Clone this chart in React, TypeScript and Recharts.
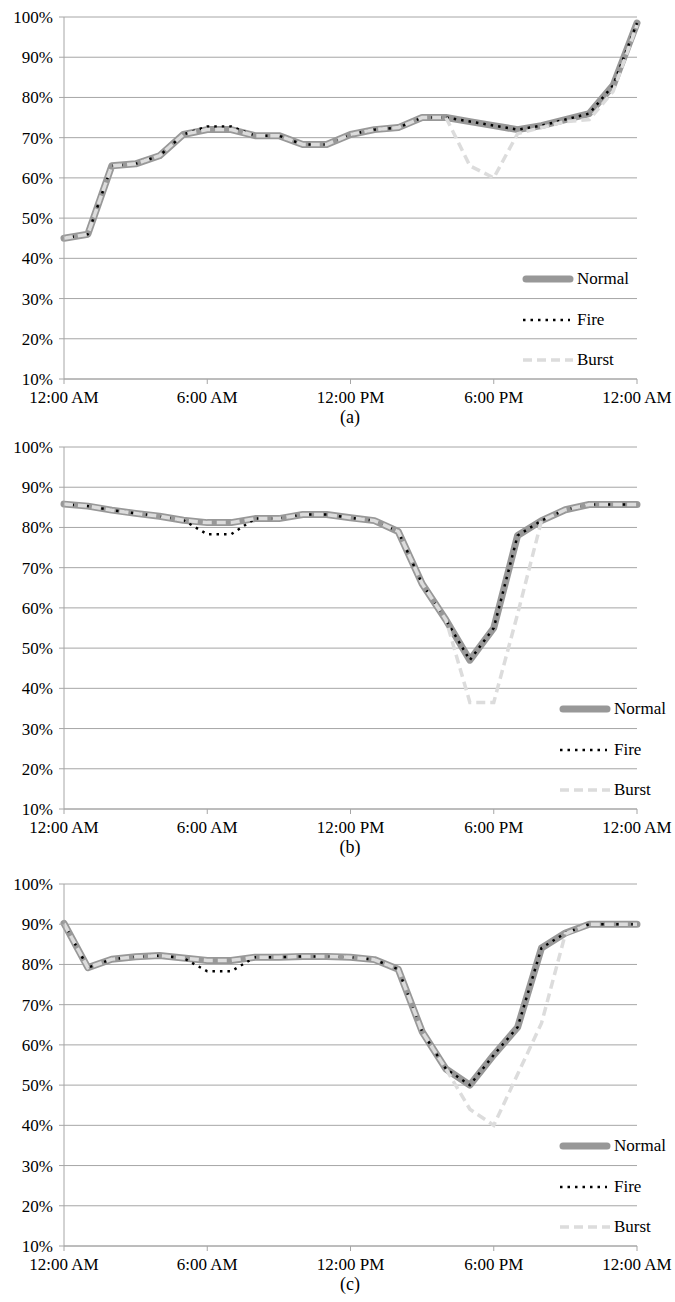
import { LineChart, Line, XAxis, YAxis, CartesianGrid } from 'recharts';

const hours = [0, 1, 2, 3, 4, 5, 6, 7, 8, 9, 10, 11, 12, 13, 14, 15, 16, 17, 18, 19, 20, 21, 22, 23, 24];
const xTicks = [0, 6, 12, 18, 24];
const xTickLabels = ['12:00 AM', '6:00 AM', '12:00 PM', '6:00 PM', '12:00 AM'];
const yTicks = [10, 20, 30, 40, 50, 60, 70, 80, 90, 100];
const seriesNames = ['Normal', 'Fire', 'Burst'];

// (a)
const normalA = [45, 46, 63, 63.5, 65.5, 70.8, 72, 72, 70.5, 70.5, 68.3, 68.3, 70.8, 72, 72.5, 75, 75, 74, 73, 72, 73, 74.5, 76, 83, 98.5];
const fireA = [45, 46, 63, 63.5, 65.5, 70.8, 72.8, 72.8, 70.5, 70.5, 68.3, 68.3, 70.8, 72, 72.5, 75, 75, 74, 73, 72, 73, 74.5, 76, 83, 98.5];
const burstA = [45, 46, 63, 63.5, 65.5, 70.8, 72, 72, 70.5, 70.5, 68.3, 68.3, 70.8, 72, 72.5, 75, 75, 63, 60, 71, 72.5, 74, 74.5, 81.5, 98];

// (b)
const normalB = [85.8, 85.3, 84.3, 83.5, 82.8, 81.8, 81.2, 81.2, 82.2, 82.2, 83.2, 83.2, 82.4, 81.7, 79, 66, 57, 47, 55, 78, 81.7, 84.4, 85.7, 85.7, 85.7];
const fireB = [85.8, 85.3, 84.3, 83.5, 82.8, 81.8, 78.3, 78.3, 82.2, 82.2, 83.2, 83.2, 82.4, 81.7, 79, 66, 57, 47, 55, 78, 81.7, 84.4, 85.7, 85.7, 85.7];
const burstB = [85.8, 85.3, 84.3, 83.5, 82.8, 81.8, 81.2, 81.2, 82.2, 82.2, 83.2, 83.2, 82.4, 81.7, 79, 66, 57, 36.5, 36.5, 58.5, 81.7, 84.4, 85.7, 85.7, 85.7];

// (c)
const normalC = [90.2, 79.2, 81.3, 81.9, 82.2, 81.6, 81, 81, 81.8, 81.8, 82, 82, 81.8, 81.2, 78.8, 63.3, 54, 50, 57.5, 64.4, 84.1, 87.8, 90, 90, 90];
const fireC = [90.2, 79.2, 81.3, 81.9, 82.2, 81.6, 78.3, 78.3, 81.8, 81.8, 82, 82, 81.8, 81.2, 78.8, 63.3, 54, 50, 57.5, 64.4, 84.1, 87.8, 90, 90, 90];
const burstC = [90.2, 79.2, 81.3, 81.9, 82.2, 81.6, 81, 81, 81.8, 81.8, 82, 82, 81.8, 81.2, 78.8, 63.3, 54, 44, 40, 52.7, 65.4, 87.6, 90, 90, 90];

const FONT = 'Liberation Serif, DejaVu Serif, serif';
const GRID = '#a6a6a6';
const NORMAL_COLOR = '#989898';
const FIRE_COLOR = '#000000';
const BURST_COLOR = '#dcdcdc';

function buildRows(normal: number[], fire: number[], burst: number[]) {
    return hours.map((h, i) => ({ hour: h, normal: normal[i], fire: fire[i], burst: burst[i] }));
}

function LegendItem({ kind, label, x, y }: { kind: number; label: string; x: number; y: number }) {
    return (
        <div style={{ position: 'absolute', left: x, top: y - 10, height: 20, display: 'flex', alignItems: 'center', fontFamily: FONT, fontSize: 17, color: '#000' }}>
            <svg width={52} height={10} style={{ marginRight: 3 }}>
                {kind === 0 && <line x1={4} y1={5} x2={48} y2={5} stroke={NORMAL_COLOR} strokeWidth={7} strokeLinecap="round" />}
                {kind === 1 && <line x1={1} y1={5} x2={48} y2={5} stroke={FIRE_COLOR} strokeWidth={2.5} strokeDasharray="2.5 5" />}
                {kind === 2 && <line x1={1} y1={5} x2={51} y2={5} stroke={BURST_COLOR} strokeWidth={3.5} strokeDasharray="9 5" />}
            </svg>
            <span>{label}</span>
        </div>
    );
}

interface PanelProps {
    top: number;
    caption: string;
    legendX: number;
    normal: number[];
    fire: number[];
    burst: number[];
}

function Panel({ top, caption, legendX, normal, fire, burst }: PanelProps) {
    const rows = buildRows(normal, fire, burst);
    return (
        <div style={{ position: 'absolute', left: 0, top, width: 675, height: 430 }}>
            <LineChart width={675} height={409} data={rows} margin={{ top: 17, right: 38, bottom: 0, left: 0 }}>
                <CartesianGrid vertical={false} stroke={GRID} strokeWidth={1} />
                <XAxis
                    dataKey="hour"
                    type="number"
                    domain={[0, 24]}
                    ticks={xTicks}
                    interval={0}
                    tickFormatter={(v: number) => xTickLabels[xTicks.indexOf(v)]}
                    height={30}
                    stroke={GRID}
                    tickSize={5}
                    tickMargin={7}
                    tick={{ fill: '#000', fontSize: 17, fontFamily: FONT }}
                />
                <YAxis
                    type="number"
                    domain={[10, 100]}
                    ticks={yTicks}
                    interval={0}
                    tickFormatter={(v: number) => `${v}%`}
                    width={64}
                    stroke={GRID}
                    tickSize={5}
                    tickMargin={6}
                    tick={{ fill: '#000', fontSize: 17, fontFamily: FONT }}
                />
                <Line dataKey="normal" stroke={NORMAL_COLOR} strokeWidth={7} dot={false} activeDot={false} strokeLinejoin="round" strokeLinecap="round" isAnimationActive={false} />
                <Line dataKey="fire" stroke={FIRE_COLOR} strokeWidth={2.5} strokeDasharray="2.5 5" dot={false} activeDot={false} isAnimationActive={false} />
                <Line dataKey="burst" stroke={BURST_COLOR} strokeWidth={3.5} strokeDasharray="9 5" dot={false} activeDot={false} isAnimationActive={false} />
            </LineChart>
            {seriesNames.map((name, i) => (
                <LegendItem key={name} kind={i} label={name} x={legendX} y={279 + i * 40.5} />
            ))}
            <div style={{ position: 'absolute', left: 0, width: 700, top: 408, textAlign: 'center', fontFamily: FONT, fontSize: 18, color: '#000', lineHeight: '18px' }}>
                {caption}
            </div>
        </div>
    );
}

export default function App() {
    return (
        <div style={{ position: 'absolute', left: 0, top: 0, width: 675, height: 1302, background: '#fff' }}>
            <Panel top={0} caption="(a)" legendX={522} normal={normalA} fire={fireA} burst={burstA} />
            <Panel top={430} caption="(b)" legendX={559} normal={normalB} fire={fireB} burst={burstB} />
            <Panel top={867} caption="(c)" legendX={559} normal={normalC} fire={fireC} burst={burstC} />
        </div>
    );
}
